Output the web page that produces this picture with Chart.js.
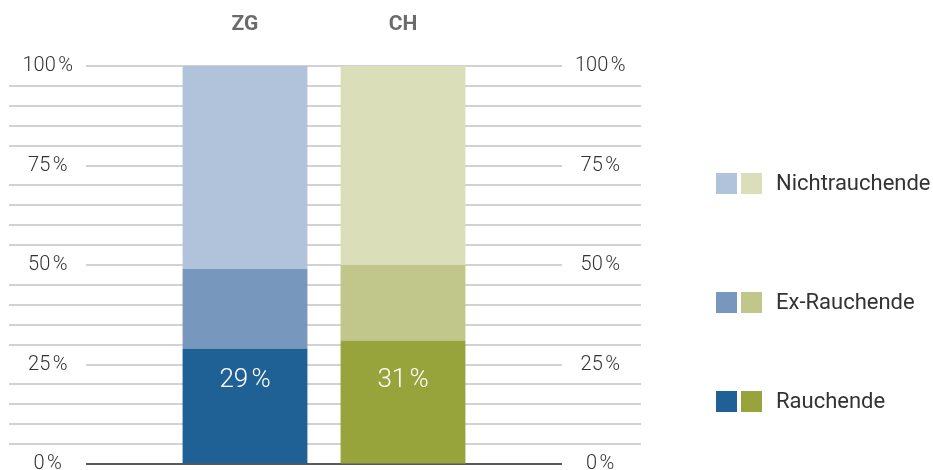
<!DOCTYPE html>
<html lang="de">
<head>
<meta charset="utf-8">
<title>Rauchende ZG / CH</title>
<script src="https://cdn.jsdelivr.net/npm/chart.js@4/dist/chart.umd.min.js"></script>
<style>
  html, body { margin: 0; padding: 0; background: #fff; }
  #wrap { width: 933px; height: 470px; }
</style>
</head>
<body>
<div id="wrap"><canvas id="myChart" width="933" height="470"></canvas></div>
<script>
//DATA
const categories = ['ZG', 'CH'];
const seriesNames = ['Rauchende', 'Ex-Rauchende', 'Nichtrauchende'];
const rauchende = [29, 31];
const exRauchende = [20, 19];
const nichtRauchende = [51, 50];
const tickLabels = [0, 25, 50, 75, 100];

//COLORS (ZG blue, CH green)
const colorsRauchende = ['#1f6195', '#97a43c'];
const colorsEx = ['#7897bd', '#c1c68a'];
const colorsNicht = ['#b0c3da', '#dadfba'];

const PCT = '\u202F%';
const FONT = 'Roboto, "Noto Sans", sans-serif';

//GRID LINES: minor lines long, major lines (every 25) shorter
const gridPlugin = {
  id: 'gridLines',
  beforeDatasetsDraw(chart) {
    const y = chart.scales.y;
    const ctx = chart.ctx;
    ctx.save();
    y.ticks.forEach((t) => {
      const py = Math.round(y.getPixelForValue(t.value));
      const major = tickLabels.includes(t.value);
      ctx.beginPath();
      ctx.lineWidth = t.value === 0 ? 1.5 : 2;
      ctx.strokeStyle = t.value === 0 ? '#222' : '#d2d2d2';
      if (major) {
        ctx.moveTo(86, py);
        ctx.lineTo(562, py);
      } else {
        ctx.moveTo(9, py);
        ctx.lineTo(641, py);
      }
      ctx.stroke();
    });
    ctx.restore();
  },
};

//LABELS INSIDE THE RAUCHENDE BARS
const barLabelPlugin = {
  id: 'barLabels',
  afterDatasetsDraw(chart) {
    const ctx = chart.ctx;
    const meta = chart.getDatasetMeta(0);
    const py = chart.scales.y.getPixelForValue(21);
    ctx.save();
    ctx.fillStyle = '#fff';
    ctx.font = '300 26px ' + FONT;
    ctx.textAlign = 'center';
    ctx.textBaseline = 'middle';
    meta.data.forEach((bar, i) => {
      ctx.fillText(rauchende[i] + PCT, bar.x, py);
    });
    ctx.restore();
  },
};

//LEGEND (two squares per entry)
const legendPlugin = {
  id: 'twoColorLegend',
  afterDraw(chart) {
    const ctx = chart.ctx;
    const rows = [
      { ds: 2, y: 183 },
      { ds: 1, y: 302 },
      { ds: 0, y: 401 },
    ];
    ctx.save();
    rows.forEach((r) => {
      const colors = chart.data.datasets[r.ds].backgroundColor;
      ctx.fillStyle = colors[0];
      ctx.fillRect(716, r.y - 10, 21, 21);
      ctx.fillStyle = colors[1];
      ctx.fillRect(741, r.y - 10, 21, 21);
      ctx.fillStyle = '#333';
      ctx.font = '22px ' + FONT;
      ctx.textAlign = 'left';
      ctx.textBaseline = 'middle';
      ctx.fillText(chart.data.datasets[r.ds].label, 776, r.y + 1);
    });
    ctx.restore();
  },
};

// tick marks are invisible, their length only moves the labels
const yGrid = {
  display: true,
  drawOnChartArea: false,
  drawTicks: true,
  tickLength: 93,
  tickColor: 'rgba(0,0,0,0)',
};

const yTicks = {
  stepSize: 5,
  autoSkip: false,
  crossAlign: 'center',
  padding: 0,
  color: '#333',
  font: { family: FONT, size: 20, weight: '300' },
  callback: (v) => (tickLabels.includes(v) ? v + PCT : ''),
};

// labels at 0 / 100 may stick out of the plot
const fitY = (width) => (scale) => {
  scale.width = width;
  scale.paddingTop = 0;
  scale.paddingBottom = 0;
};

const ctx = document.querySelector('#myChart');
new Chart(ctx, {
  type: 'bar',
  data: {
    labels: categories,
    datasets: [
      { label: seriesNames[0], data: rauchende, backgroundColor: colorsRauchende },
      { label: seriesNames[1], data: exRauchende, backgroundColor: colorsEx },
      { label: seriesNames[2], data: nichtRauchende, backgroundColor: colorsNicht },
    ],
  },
  options: {
    responsive: false,
    animation: false,
    layout: { padding: { left: 10, right: 293, top: 0, bottom: 6 } },
    datasets: {
      bar: { categoryPercentage: 1, barPercentage: 0.79, borderWidth: 0 },
    },
    plugins: {
      legend: { display: false },
      tooltip: { enabled: false },
    },
    scales: {
      x: {
        position: 'top',
        stacked: true,
        grid: { display: false, drawTicks: false },
        border: { display: false },
        ticks: {
          padding: 29,
          color: '#6b6b6b',
          font: { family: FONT, size: 21, weight: 'bold' },
        },
        afterFit: (scale) => {
          scale.height = 66;
        },
      },
      y: {
        position: 'left',
        stacked: true,
        min: 0,
        max: 100,
        grid: yGrid,
        border: { display: false },
        ticks: yTicks,
        afterFit: fitY(156),
      },
      y2: {
        position: 'right',
        min: 0,
        max: 100,
        grid: yGrid,
        border: { display: false },
        ticks: yTicks,
        afterFit: fitY(158),
      },
    },
  },
  plugins: [gridPlugin, barLabelPlugin, legendPlugin],
});
</script>
</body>
</html>
